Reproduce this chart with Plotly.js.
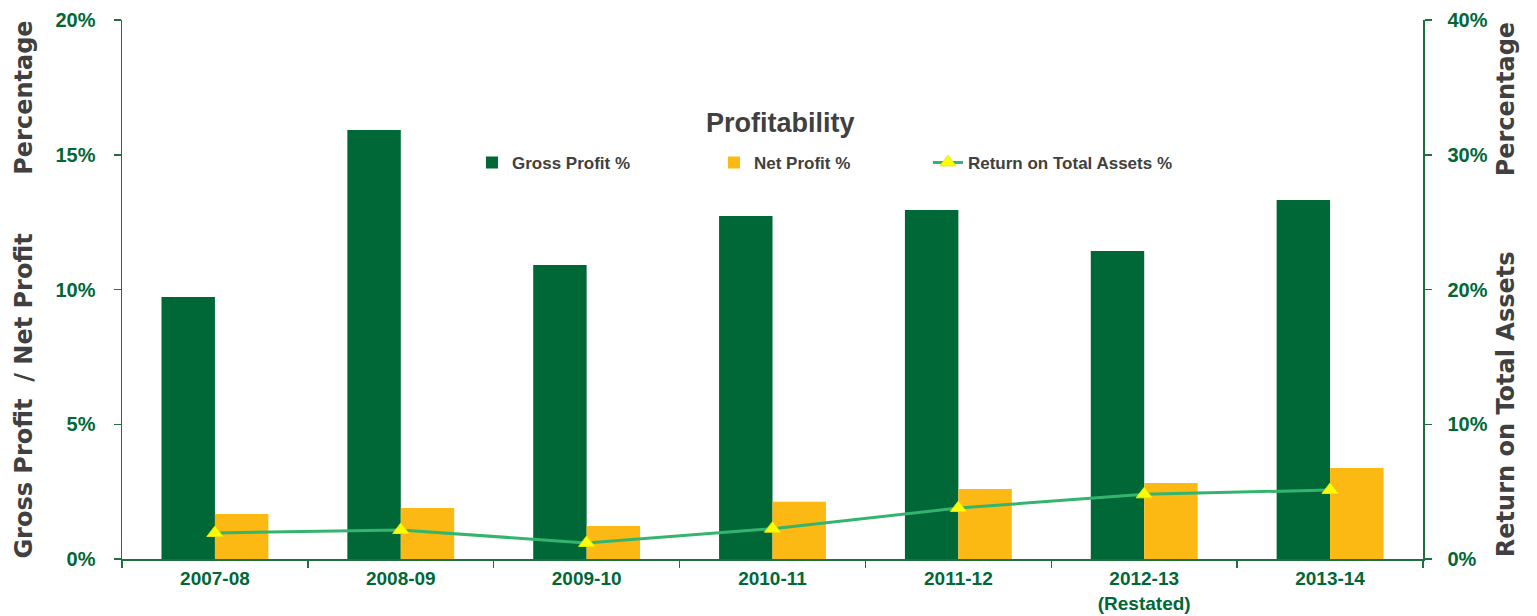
<!DOCTYPE html>
<html>
<head>
<meta charset="utf-8">
<script src="https://cdn.plot.ly/plotly-3.0.1.min.js"></script>
<style>html,body{margin:0;padding:0;background:#fff;}#chart{width:1537px;height:616px;}</style>
</head>
<body>
<div id="chart"></div>
<script>
const categories = ["2007-08", "2008-09", "2009-10", "2010-11", "2011-12", "2012-13<br>(Restated)", "2013-14"];
const grossProfit = [9.72, 15.92, 10.91, 12.73, 12.95, 11.43, 13.32];
const netProfit = [1.67, 1.89, 1.22, 2.12, 2.60, 2.82, 3.38];
const returnOnAssets = [1.93, 2.15, 1.19, 2.25, 3.78, 4.80, 5.12];
const leftTicks = [0, 5, 10, 15, 20];
const leftTickLabels = ["0%", "5%", "10%", "15%", "20%"];
const rightTicks = [0, 10, 20, 30, 40];
const rightTickLabels = ["0%", "10%", "20%", "30%", "40%"];

const GREEN = "#006837";
const AXIS = "#1f6f3f";
const GREY = "#404040";
const NB = "\u00A0";

const tickFont = {family: "Liberation Sans, Arial, sans-serif", size: 20, color: GREEN, weight: "bold"};
const xTickFont = {family: "Liberation Sans, Arial, sans-serif", size: 19, color: GREEN, weight: "bold"};
const titleFont = {family: "DejaVu Sans, sans-serif", size: 24, color: GREY, weight: "bold"};
const legendFont = {family: "Liberation Sans, Arial, sans-serif", size: 17, color: GREY, weight: "bold"};

const traces = [
  {type: "bar", name: "Gross Profit %", x: categories, y: grossProfit, marker: {color: GREEN}, yaxis: "y", legend: "legend"},
  {type: "bar", name: "Net Profit %", x: categories, y: netProfit, marker: {color: "#FDB913"}, yaxis: "y", legend: "legend2"},
  {type: "scatter", mode: "lines+markers", name: "Return on Total Assets %", x: categories, y: returnOnAssets, yaxis: "y2", legend: "legend3",
   line: {color: "#34B56E", width: 3}, marker: {symbol: "triangle-up", size: 14, color: "#FFFF00", line: {color: "#E8E800", width: 1}}}
];

function legendAt(x) {
  return {orientation: "h", x: x, xanchor: "left", y: 0.735, yanchor: "middle", yref: "paper",
          font: legendFont, bgcolor: "rgba(0,0,0,0)"};
}

const layout = {
  width: 1537, height: 616,
  margin: {l: 122, r: 114, t: 20, b: 57},
  paper_bgcolor: "#ffffff", plot_bgcolor: "#ffffff",
  showlegend: true,
  barmode: "group", bargap: 0.425, bargroupgap: 0,
  title: {text: "Profitability", x: 0.506, xref: "paper", y: 0.81, yref: "paper", yanchor: "middle", xanchor: "center",
          font: {family: "Liberation Sans, Arial, sans-serif", size: 27, color: GREY, weight: "bold"}},
  legend: legendAt(0.269),
  legend2: legendAt(0.455),
  legend3: legendAt(0.6195),
  xaxis: {type: "category", showgrid: false, zeroline: false, showline: true, linecolor: AXIS, linewidth: 2,
          ticks: "outside", tickson: "boundaries", ticklen: 7, tickcolor: AXIS, tickwidth: 1.5,
          tickfont: xTickFont, ticklabelstandoff: 1, fixedrange: true},
  yaxis: {range: [0, 20], tickmode: "array", tickvals: leftTicks, ticktext: leftTickLabels, showgrid: false, zeroline: false,
          showline: true, linecolor: AXIS, linewidth: 1.5, ticks: "outside", ticklen: 7, tickcolor: AXIS, tickwidth: 1.5,
          tickfont: tickFont, ticklabelstandoff: 14,
          title: {text: "Gross Profit" + NB + NB + "/ Net Profit" + NB.repeat(7) + "Percentage", font: titleFont, standoff: 16}},
  yaxis2: {range: [0, 40], tickmode: "array", tickvals: rightTicks, ticktext: rightTickLabels, overlaying: "y", side: "right",
           showgrid: false, zeroline: false,
           showline: true, linecolor: AXIS, linewidth: 1.5, ticks: "outside", ticklen: 7, tickcolor: AXIS, tickwidth: 1.5,
           tickfont: tickFont, ticklabelstandoff: 12,
           title: {text: "Return on Total Assets" + NB.repeat(9) + "Percentage", font: titleFont, standoff: 10}},
  yaxis3: {range: [0, 20], tickmode: "array", tickvals: leftTicks, overlaying: "y", side: "left", showgrid: false, zeroline: false,
           showline: false, ticks: "inside", ticklen: 7, tickcolor: AXIS, tickwidth: 1.5, showticklabels: false},
  yaxis4: {range: [0, 40], tickmode: "array", tickvals: rightTicks, overlaying: "y", side: "right", showgrid: false, zeroline: false,
           showline: false, ticks: "inside", ticklen: 7, tickcolor: AXIS, tickwidth: 1.5, showticklabels: false}
};

Plotly.newPlot("chart", traces, layout, {displayModeBar: false, staticPlot: true});
</script>
</body>
</html>
